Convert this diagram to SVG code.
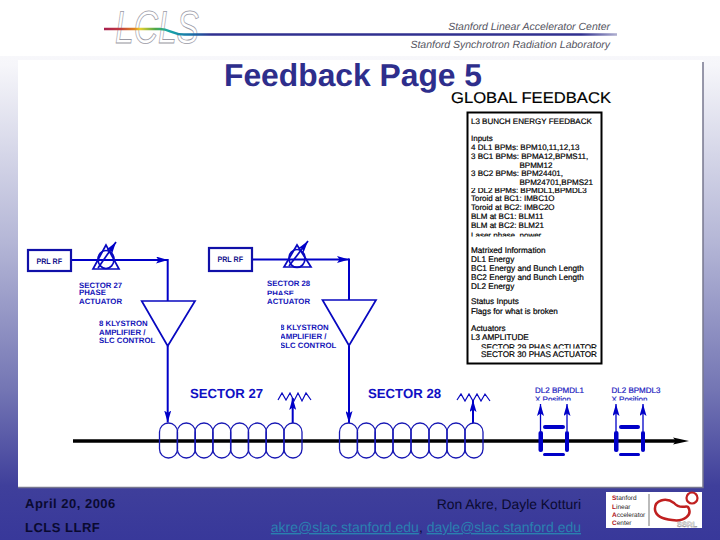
<svg xmlns="http://www.w3.org/2000/svg" width="720" height="540" viewBox="0 0 720 540">
<style>
text{text-rendering:geometricPrecision}
.l{stroke:#0000c8;fill:none;stroke-width:2}
.t{stroke:#0808c0;fill:none;stroke-width:1.700;stroke-linejoin:miter}
.box{fill:#fff;stroke:#1010a8;stroke-width:2.200}
.coil{stroke:#1818b4;fill:none;stroke-width:1.300}
.d{font-family:"Liberation Sans",Arial,sans-serif;font-weight:bold;font-size:7.800px;fill:#1414b8}
.p{font-family:"Liberation Sans",Arial,sans-serif;font-weight:bold;font-size:8px;fill:#14148c}
.b{font-family:"Liberation Sans",Arial,sans-serif;font-size:8.200px;fill:#000;stroke:#000;stroke-width:.2}
.n{font-size:8px}
.sec{font-family:"Liberation Sans",Arial,sans-serif;font-weight:bold;font-size:13.200px;fill:#1010c4}
.bpm{font-family:"Liberation Sans",Arial,sans-serif;font-size:8px;fill:#1a1ac0;stroke:#1a1ac0;stroke-width:.2}
.f{font-family:"Liberation Sans",Arial,sans-serif}
.h{font-size:10.500px;font-style:italic;fill:#55555f;text-anchor:end}
</style>
<defs>
<linearGradient id="bg" x1="0" y1="0" x2="0" y2="1">
<stop offset="0" stop-color="#ffffff"/><stop offset=".12" stop-color="#f6f6fa"/><stop offset=".45" stop-color="#b4b6d6"/><stop offset=".72" stop-color="#7476b4"/><stop offset=".9" stop-color="#3f3f9b"/><stop offset="1" stop-color="#38389a"/>
</linearGradient>
<linearGradient id="rb" gradientUnits="userSpaceOnUse" x1="104" y1="0" x2="617" y2="0">
<stop offset="0" stop-color="#a82050"/><stop offset=".03" stop-color="#c03840"/><stop offset=".06" stop-color="#e08820"/><stop offset=".07" stop-color="#e8d030"/><stop offset=".1" stop-color="#50a848"/><stop offset=".125" stop-color="#18a8a8"/><stop offset=".17" stop-color="#1870a8"/><stop offset=".21" stop-color="#303090"/><stop offset=".93" stop-color="#303090"/><stop offset="1" stop-color="#b0b0d0"/>
</linearGradient>
<clipPath id="cx"><rect x="500" y="380" width="170" height="20.500"/></clipPath>
<clipPath id="cp"><rect x="260" y="288" width="60" height="7"/></clipPath>
<clipPath id="ck"><rect x="281" y="320" width="70" height="30"/></clipPath>
<clipPath id="cd"><rect x="469" y="188" width="130" height="5.500"/></clipPath>
<clipPath id="cs"><rect x="469" y="342" width="130" height="6.500"/></clipPath>
<clipPath id="cl"><rect x="469" y="228" width="130" height="8.500"/></clipPath>
<marker id="a" viewBox="0 0 12 7" refX="12" refY="3.500" markerWidth="12" markerHeight="7" markerUnits="userSpaceOnUse" orient="auto"><path d="M0 0L12 3.500L0 7L2.500 3.500Z" fill="#0000c8"/></marker>
</defs>
<rect width="720" height="540" fill="url(#bg)"/>
<rect width="720" height="56" fill="#fff"/>
<rect x="18" y="60" width="685" height="427" fill="#fff"/>
<path d="M18 487.500H703V62" fill="none" stroke="#77778f" stroke-width="1.500"/>

<g id="logo">
<text x="115" y="43" class="f" font-size="46" font-style="italic" fill="#fff" stroke="#9a9aa6" stroke-width=".8" textLength="84" lengthAdjust="spacingAndGlyphs">LCLS</text>
<path d="M104 29H160C170 29 172 34.500 184 34.500H617" fill="none" stroke="url(#rb)" stroke-width="2.400"/>
<text x="610" y="30" class="f h">Stanford Linear Accelerator Center</text>
<text x="610" y="48" class="f h">Stanford Synchrotron Radiation Laboratory</text>
</g>
<text id="title" x="224" y="86" class="f" font-size="31.800" font-weight="bold" fill="#2e2e8c">Feedback Page 5</text>
<text id="subtitle" x="451" y="103" class="f" font-size="15.500" fill="#000" stroke="#000" stroke-width=".2" textLength="160" lengthAdjust="spacingAndGlyphs">GLOBAL FEEDBACK</text>

<g id="connectors">
<path class="l" d="M71 260H168" marker-end="url(#a)"/>
<path class="l" d="M167.700 259V301"/>
<path class="l" d="M167.700 346V422.500" marker-end="url(#a)"/>
<path class="l" d="M252 259.500H349" marker-end="url(#a)"/>
<path class="l" d="M349 258.500V300"/>
<path class="l" d="M349 346V423" marker-end="url(#a)"/>
<path class="l" d="M292.700 423V398" marker-end="url(#a)"/>
<path class="l" d="M473 423V400" marker-end="url(#a)"/>
<path class="l" d="M540.500 431V404" marker-end="url(#a)" style="stroke-width:1.300"/>
<path class="l" d="M567 431V404" marker-end="url(#a)" style="stroke-width:1.300"/>
<path class="l" d="M616 431V404" marker-end="url(#a)" style="stroke-width:1.300"/>
<path class="l" d="M643 431V404" marker-end="url(#a)" style="stroke-width:1.300"/>
</g>

<g id="prl1"><rect class="box" x="28" y="250" width="43" height="21"/><text class="p" x="36.500" y="263.500" textLength="25.500" lengthAdjust="spacingAndGlyphs">PRL RF</text></g>
<g id="act1"><path class="t" d="M106 245L93 269H119Z"/><ellipse class="t" cx="106" cy="259.500" rx="8" ry="9"/><path class="t" d="M98 268L116 242" marker-end="url(#a)"/>
<text class="d" x="79" y="287.500">SECTOR 27</text><text class="d" x="79" y="295">PHASE</text><text class="d" x="79" y="304">ACTUATOR</text></g>
<g id="amp1"><path class="t" d="M141.700 301H195L167.700 346Z"/>
<text class="d" x="99" y="326">8 KLYSTRON</text><text class="d" x="99" y="334.500">AMPLIFIER /</text><text class="d" x="99" y="343">SLC CONTROL</text></g>

<g id="prl2"><rect class="box" x="209" y="248" width="43" height="23"/><text class="p" x="217.500" y="262" textLength="25.500" lengthAdjust="spacingAndGlyphs">PRL RF</text></g>
<g id="act2"><path class="t" d="M297 245L284 267H311Z"/><ellipse class="t" cx="297" cy="258.500" rx="8" ry="9"/><path class="t" d="M289 266L308 241" marker-end="url(#a)"/>
<text class="d" x="267" y="286">SECTOR 28</text><text class="d" x="267" y="296" clip-path="url(#cp)">PHASE</text><text class="d" x="267" y="303.500">ACTUATOR</text></g>
<g id="amp2"><path class="t" d="M322.500 300H376L349 345.500Z"/>
<g clip-path="url(#ck)"><text class="d" x="280" y="330">8 KLYSTRON</text><text class="d" x="280" y="339">AMPLIFIER /</text><text class="d" x="280" y="347.500">SLC CONTROL</text></g></g>

<g id="sec27"><text class="sec" x="190" y="398">SECTOR 27</text>
<path class="t" style="stroke-width:1.200" d="M278 400L282 393L286 400L290 393L294 401L298 393L302 401L306 393L311 400"/></g>
<g id="sec28"><text class="sec" x="368" y="398">SECTOR 28</text>
<path class="t" style="stroke-width:1.200" d="M457 400L461 394L465 401L469 394L473 401L477 394L481 401L485 394L490 401"/></g>

<g id="beam"><path d="M73 441H680" stroke="#000" stroke-width="3.600"/><path d="M673 437.500L689 441L673 444.500L676 441Z" fill="#000"/></g>

<g id="coils27">
<rect class="coil" x="159.500" y="423" width="18" height="35" rx="9"/><rect class="coil" x="177.300" y="423" width="18" height="35" rx="9"/><rect class="coil" x="195" y="423" width="18" height="35" rx="9"/><rect class="coil" x="212.800" y="423" width="18" height="35" rx="9"/><rect class="coil" x="230.600" y="423" width="18" height="35" rx="9"/><rect class="coil" x="248.300" y="423" width="18" height="35" rx="9"/><rect class="coil" x="266" y="423" width="18" height="35" rx="9"/><rect class="coil" x="284" y="423" width="18" height="35" rx="9"/>
</g>
<g id="coils28">
<rect class="coil" x="339.500" y="423" width="18" height="35" rx="9"/><rect class="coil" x="357.300" y="423" width="18" height="35" rx="9"/><rect class="coil" x="375" y="423" width="18" height="35" rx="9"/><rect class="coil" x="393" y="423" width="18" height="35" rx="9"/><rect class="coil" x="411" y="423" width="18" height="35" rx="9"/><rect class="coil" x="429" y="423" width="18" height="35" rx="9"/><rect class="coil" x="447" y="423" width="18" height="35" rx="9"/><rect class="coil" x="465" y="423" width="18" height="35" rx="9"/>
</g>

<g id="bpm1" fill="#0000c8"><rect x="538.500" y="431" width="4.500" height="21" rx="2"/><rect x="565" y="431" width="4" height="21" rx="2"/><rect x="543" y="425" width="22" height="4" rx="2"/><rect x="543" y="453" width="22" height="3" rx="1.500"/>
<g clip-path="url(#cx)"><text class="bpm" x="535" y="393">DL2 BPMDL1</text><text class="bpm" x="535" y="402">X Position</text></g></g>
<g id="bpm2" fill="#0000c8"><rect x="614" y="431" width="4.500" height="21" rx="2"/><rect x="641" y="431" width="4" height="21" rx="2"/><rect x="619" y="425" width="21" height="4" rx="2"/><rect x="619" y="453" width="21" height="3" rx="1.500"/>
<g clip-path="url(#cx)"><text class="bpm" x="611.500" y="393">DL2 BPMDL3</text><text class="bpm" x="611.500" y="402">X Position</text></g></g>

<g id="infobox">
<rect x="467.500" y="112.500" width="134" height="251" fill="#fff" stroke="#000" stroke-width="2"/>
<text class="b n" x="471" y="123.500">L3 BUNCH ENERGY FEEDBACK</text>
<text class="b n" x="471" y="140.500">Inputs</text>
<text class="b n" x="471" y="150">4 DL1 BPMs: BPM10,11,12,13</text>
<text class="b n" x="471" y="158.500">3 BC1 BPMs: BPMA12,BPMS11,</text>
<text class="b n" x="519.500" y="167.500">BPMM12</text>
<text class="b n" x="471" y="176">3 BC2 BPMs: BPM24401,</text>
<text class="b n" x="519.500" y="185">BPM24701,BPMS21</text>
<text class="b n" x="471" y="193" clip-path="url(#cd)">2 DL2 BPMs: BPMDL1,BPMDL3</text>
<text class="b n" x="471" y="200.500">Toroid at BC1: IMBC1O</text>
<text class="b n" x="471" y="209.500">Toroid at BC2: IMBC2O</text>
<text class="b n" x="471" y="218.500">BLM at BC1: BLM11</text>
<text class="b n" x="471" y="227.500">BLM at BC2: BLM21</text>
<text class="b n" x="471" y="238" clip-path="url(#cl)">Laser phase, power</text>
<text class="b" x="471" y="252.500">Matrixed Information</text>
<text class="b" x="471" y="262">DL1 Energy</text>
<text class="b" x="471" y="271">BC1 Energy and Bunch Length</text>
<text class="b" x="471" y="280">BC2 Energy and Bunch Length</text>
<text class="b" x="471" y="288.500">DL2 Energy</text>
<text class="b" x="471" y="304">Status Inputs</text>
<text class="b" x="471" y="314">Flags  for what is broken</text>
<text class="b" x="471" y="331">Actuators</text>
<text class="b" x="471" y="340">L3 AMPLITUDE</text>
<text class="b" x="481" y="349.500" clip-path="url(#cs)">SECTOR 29 PHAS ACTUATOR</text>
<text class="b" x="481" y="357">SECTOR 30 PHAS ACTUATOR</text>
</g>

<g id="footer" class="f">
<text x="25" y="508" font-size="13" font-weight="bold" fill="#0a0a30" letter-spacing=".5">April 20, 2006</text>
<text x="25" y="532" font-size="13" font-weight="bold" fill="#0a0a30" letter-spacing=".5">LCLS LLRF</text>
<text x="581" y="509" font-size="13.900" fill="#0a0a30" text-anchor="end">Ron Akre, Dayle Kotturi</text>
<text x="581" y="532" font-size="14" fill="#2a80b0" text-anchor="end"><tspan text-decoration="underline">akre@slac.stanford.edu</tspan><tspan fill="#0a0a30">, </tspan><tspan text-decoration="underline">dayle@slac.stanford.edu</tspan></text>
</g>
<g id="slac">
<rect x="606" y="492" width="96" height="36" fill="#fff"/>
<rect x="648" y="494" width="2" height="32" fill="#bbb"/>
<g class="f" font-size="6.500" fill="#222"><text x="612" y="500"><tspan fill="#b01020" font-weight="bold">S</tspan>tanford</text><text x="612" y="509"><tspan fill="#b01020" font-weight="bold">L</tspan>inear</text><text x="612" y="517"><tspan fill="#b01020" font-weight="bold">A</tspan>ccelerator</text><text x="612" y="525"><tspan fill="#b01020" font-weight="bold">C</tspan>enter</text></g>
<path d="M655 510C654 500 666 497 674 503C680 510 686 505 688 507C693 515 684 522 672 520C662 519 656 516 655 510Z" fill="none" stroke="#c02020" stroke-width="2.500"/>
<circle cx="692" cy="498" r="5.500" fill="none" stroke="#c02020" stroke-width="2.200"/>
<text x="677" y="527" class="f" font-size="7.500" font-weight="bold" fill="#fff" stroke="#666" stroke-width=".3">SSRL</text>
</g>
</svg>
